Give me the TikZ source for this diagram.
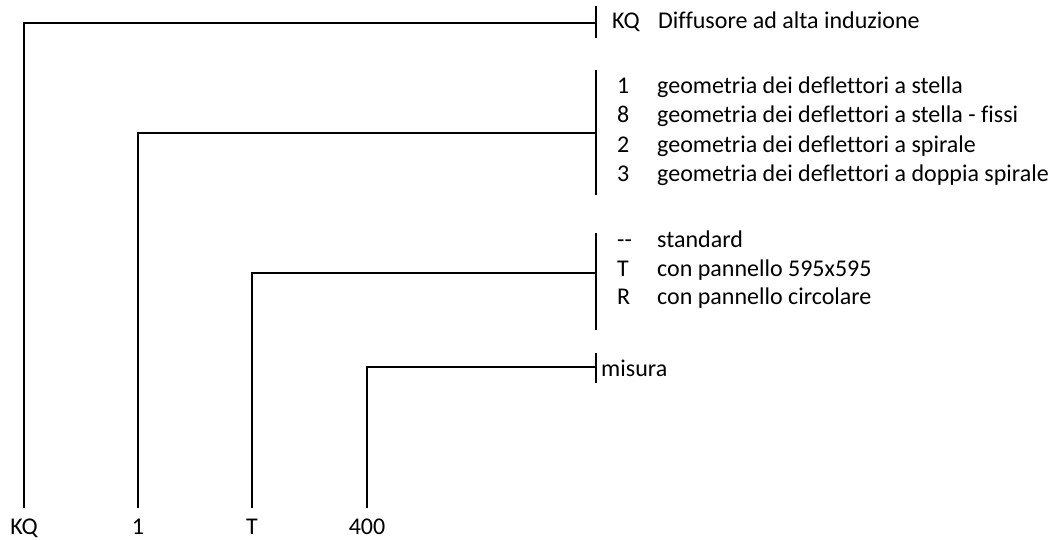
\documentclass[tikz,border=0pt]{standalone}
\usepackage{fontspec}
\setmainfont[Ligatures=NoCommon]{Carlito}
\begin{document}
\begin{tikzpicture}[x=1pt,y=-1pt,
  conn/.style={draw=black,line width=1.3pt},
  txt/.style={anchor=base west,inner sep=0pt,font=\fontsize{24}{29}\selectfont},
  bot/.style={anchor=base,inner xsep=0pt,inner ysep=10.5pt,font=\fontsize{24}{29}\selectfont}]
\useasboundingbox (0,0) rectangle (1061,540);
% bottom code labels
\node[bot] (bKQ) at (24,534) {KQ};
\node[bot] (b1) at (138,534) {1};
\node[bot] (bT) at (252,534) {T};
\node[bot] (b400) at (367,534) {400};
% junction points on the bars
\coordinate (jKQ) at (596,23);
\coordinate (j1) at (596,133);
\coordinate (jT) at (596,273);
\coordinate (j400) at (596,367);
% bar ends
\coordinate (aKQ) at (596,6);   \coordinate (zKQ) at (596,38);
\coordinate (a1) at (596,70);   \coordinate (z1) at (596,195);
\coordinate (aT) at (596,233);  \coordinate (zT) at (596,330);
\coordinate (a400) at (596,353);\coordinate (z400) at (596,383);
% connectors
\draw[conn] (bKQ.north) |- (jKQ);
\draw[conn] (b1.north) |- (j1);
\draw[conn] (bT.north) |- (jT);
\draw[conn] (b400.north) |- (j400);
% bars
\draw[conn] (aKQ) -- (zKQ);
\draw[conn] (a1) -- (z1);
\draw[conn] (aT) -- (zT);
\draw[conn] (a400) -- (z400);
% legend texts
\node[txt] (cKQ) at (612,29) {KQ};
\node[txt] (dKQ) at (658,29) {Diffusore ad alta induzione};
\node[txt] (c1) at (617,94) {1};
\node[txt] (d1) at (657,94) {geometria dei deflettori a stella};
\node[txt] (c8) at (617,123) {8};
\node[txt] (d8) at (657,123) {geometria dei deflettori a stella - fissi};
\node[txt] (c2) at (617,153) {2};
\node[txt] (d2) at (657,153) {geometria dei deflettori a spirale};
\node[txt] (c3) at (617,182) {3};
\node[txt] (d3) at (657,182) {geometria dei deflettori a doppia spirale};
\node[txt] (cs) at (617,248) {{-}{-}};
\node[txt] (ds) at (657,248) {standard};
\node[txt] (cT) at (617,277) {T};
\node[txt] (dT) at (657,277) {con pannello 595x595};
\node[txt] (cR) at (617,305) {R};
\node[txt] (dR) at (657,305) {con pannello circolare};
\node[txt] (dm) at (601,376) {misura};
\end{tikzpicture}
\end{document}
